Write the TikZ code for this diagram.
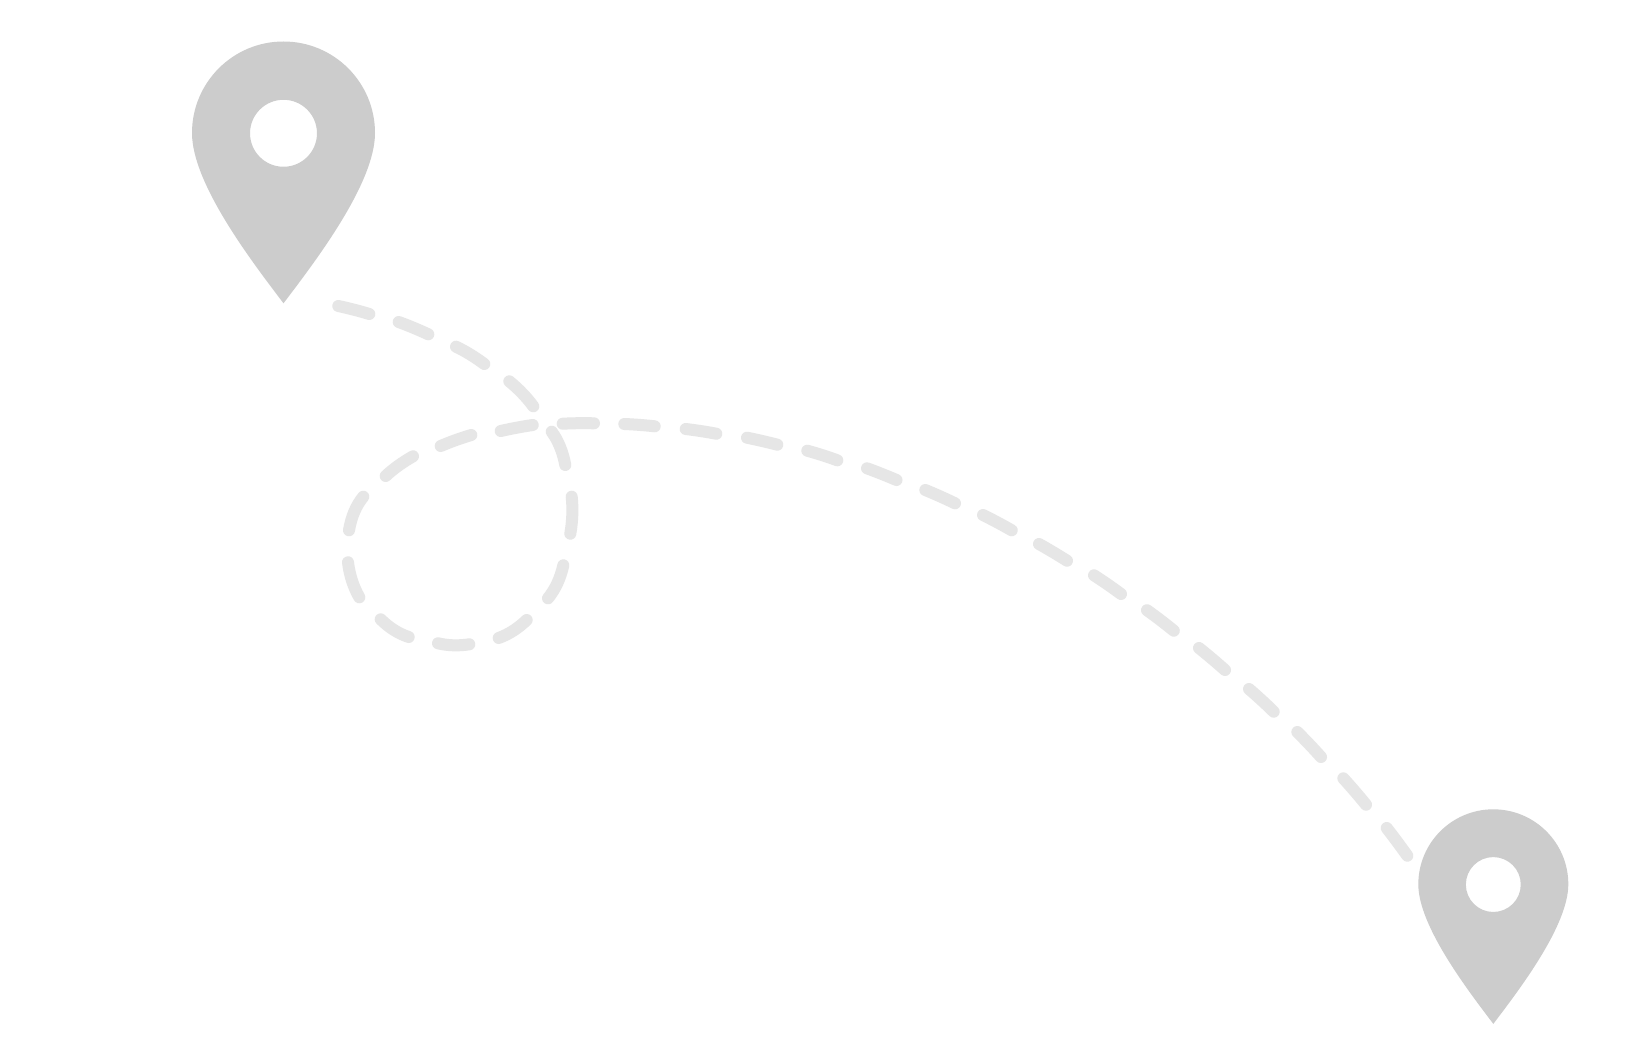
\documentclass[tikz,border=0pt]{standalone}
\usetikzlibrary{calc}
\definecolor{pingrey}{HTML}{CCCCCC}
\definecolor{trailgrey}{HTML}{E6E6E6}
\tikzset{
  trail/.style={draw=trailgrey,line width=12pt,line cap=round,line join=round},
  pinbody/.style={fill=pingrey,even odd rule,draw=none}
}
\newcommand\mappin[2]{%
  \begin{scope}[shift={#1},scale=#2]
    \fill[pinbody]
      (-1,0) .. controls (-1,-.5523) and (-.5523,-1) .. (0,-1)
      .. controls (.5523,-1) and (1,-.5523) .. (1,0)
      .. controls (1,.55) and (.35,1.4) .. (0,1.861)
      .. controls (-.35,1.4) and (-1,.55) .. (-1,0) -- cycle
      (0,.003) circle[radius=.366];
  \end{scope}}
\newcommand\trailseg[3]{%
  \coordinate (qc) at ($($(#1)!.5!(#3)$)!2!(#2)$);
  \draw[trail] (#1) .. controls ($(#1)!.6667!(qc)$) and ($(#3)!.6667!(qc)$) .. (#3);}
\begin{document}
\begin{tikzpicture}[x=1pt,y=-1pt]
\useasboundingbox (0,0) rectangle (1651,1059);
\fill[white] (0,0) rectangle (1651,1059);
% trail
\trailseg{338.3,306}{354,309.7}{369.3,314}
\trailseg{398.7,322}{413.3,327.7}{428.3,334.3}
\trailseg{456,346.7}{470,354.3}{484.3,364}
\trailseg{509.3,381.3}{522.3,393.3}{533.3,406.3}
\trailseg{551.7,431.7}{560,446.7}{565.3,465}
\trailseg{571.7,496.7}{572.3,515}{570.3,533.7}
\trailseg{563.3,565.3}{557.3,583.3}{548,598.3}
\trailseg{526.7,620}{513.3,630.7}{498.7,638}
\trailseg{469.3,644.3}{453.3,645.3}{438,643.3}
\trailseg{408.7,637}{394,630}{380.7,619.3}
\trailseg{359.3,597.3}{352,580.7}{348,562.3}
\trailseg{349,530.3}{354.3,511.7}{363.3,496.7}
\trailseg{385.7,476}{398.3,465.7}{413,456.3}
\trailseg{440.7,446}{456,440}{471.3,435}
\trailseg{500.7,431}{516.7,427.7}{532.7,425}
\trailseg{562.7,423.7}{578.3,423.2}{594,423.3}
\trailseg{624.3,424}{639.5,424.9}{654.7,426.3}
\trailseg{685.7,429}{701,431.1}{716.3,433.7}
\trailseg{747,437.7}{762.2,441}{777.3,444.7}
\trailseg{807.3,450.7}{822.4,455.2}{837.3,460.3}
\trailseg{867,468.3}{881.7,473.9}{896.5,480}
\trailseg{925.3,490}{940.2,496.4}{955,503.3}
\trailseg{983,515}{997.4,522.4}{1011.7,530.3}
\trailseg{1039,544}{1053,552.1}{1067,560.7}
\trailseg{1094,575.3}{1107.6,584.4}{1121,594}
\trailseg{1147,610.2}{1160.5,620.2}{1173.8,630.7}
\trailseg{1199,648}{1212.1,658.8}{1225,670}
\trailseg{1249,689}{1261.5,700.1}{1273.7,711.7}
\trailseg{1297.3,732}{1309.3,744.3}{1321,757}
\trailseg{1343.3,778.3}{1354.8,791.3}{1366,804.7}
\trailseg{1386.7,828}{1397.1,841.7}{1407.3,855.7}
% pins
\mappin{(283.5,133)}{91.5}
\mappin{(1493.3,884.3)}{75}
\end{tikzpicture}
\end{document}
